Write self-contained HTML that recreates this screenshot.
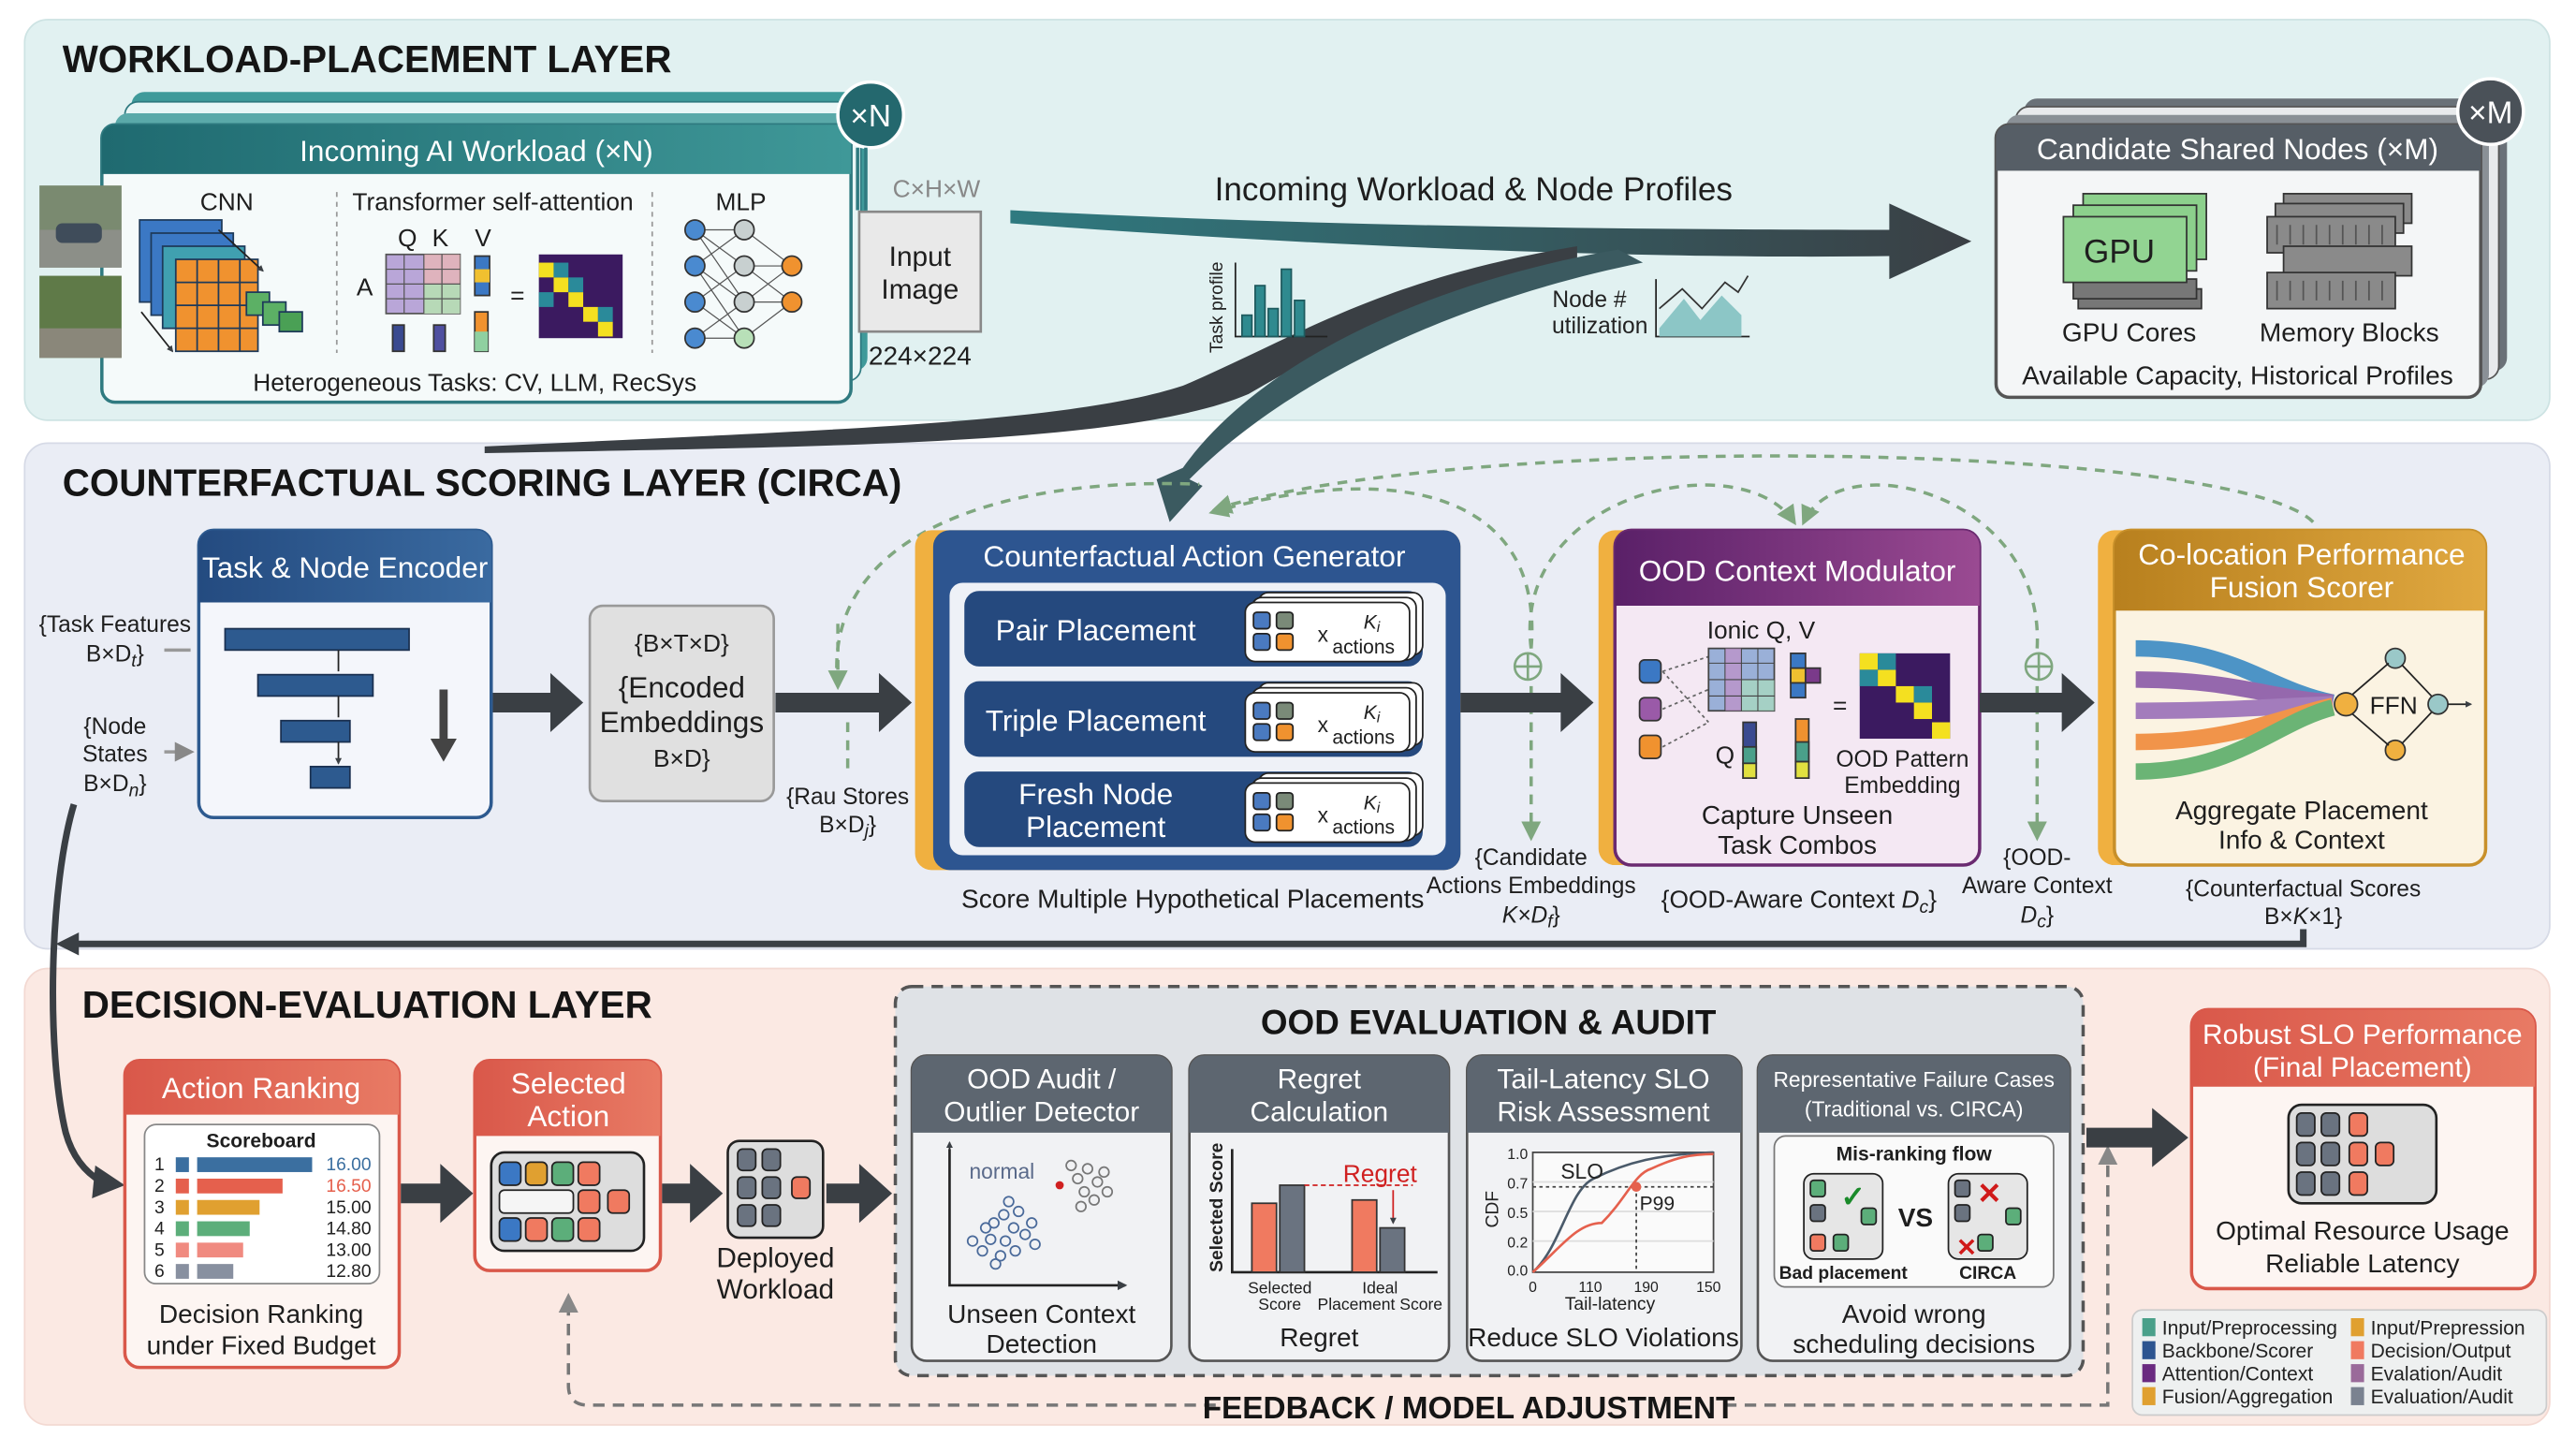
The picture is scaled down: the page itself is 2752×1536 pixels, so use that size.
<!DOCTYPE html>
<html><head><meta charset="utf-8">
<style>
html,body{margin:0;padding:0;background:#fff;}
svg{display:block;}
text{font-family:"Liberation Sans Narrow","Liberation Sans",sans-serif;}
.t{font-size:15px;fill:#1e1e1e;text-anchor:middle;}
.h{font-size:18px;fill:#fff;text-anchor:middle;}
.L{font-size:23px;font-weight:bold;fill:#151515;}
.s{font-size:12px;fill:#1e1e1e;text-anchor:middle;}
.gd{fill:none;stroke:#7fa77f;stroke-width:2;stroke-dasharray:6 5;}
.gy{fill:none;stroke:#777;stroke-width:2;stroke-dasharray:7 5;}
</style></head><body>
<svg width="2752" height="1536" viewBox="0 0 1568 876" preserveAspectRatio="none" xmlns="http://www.w3.org/2000/svg">
<defs>
<marker id="ag" viewBox="0 0 10 10" refX="8" refY="5" markerWidth="6" markerHeight="6" orient="auto"><path d="M0,0L10,5L0,10z" fill="#7fa77f"/></marker>
<marker id="ay" viewBox="0 0 10 10" refX="8" refY="5" markerWidth="6" markerHeight="6" orient="auto"><path d="M0,0L10,5L0,10z" fill="#888"/></marker>
<marker id="ad" viewBox="0 0 10 10" refX="8" refY="5" markerWidth="4" markerHeight="4" orient="auto"><path d="M0,0L10,5L0,10z" fill="#3a3f44"/></marker>
<linearGradient id="tg" x1="0" x2="1"><stop offset="0" stop-color="#2f7a80"/><stop offset="1" stop-color="#3a3f44"/></linearGradient>
<linearGradient id="hb" x1="0" x2="1"><stop offset="0" stop-color="#244b80"/><stop offset="1" stop-color="#3a6aa0"/></linearGradient>
<linearGradient id="hp" x1="0" x2="1"><stop offset="0" stop-color="#5a2068"/><stop offset="1" stop-color="#9a4a92"/></linearGradient>
<linearGradient id="ho" x1="0" x2="1"><stop offset="0" stop-color="#b8801e"/><stop offset="1" stop-color="#e0a840"/></linearGradient>
<linearGradient id="hr" x1="0" x2="1"><stop offset="0" stop-color="#d9584a"/><stop offset="1" stop-color="#e87a64"/></linearGradient>
<linearGradient id="ht" x1="0" x2="1"><stop offset="0" stop-color="#1f6a70"/><stop offset="1" stop-color="#3f9898"/></linearGradient>
</defs>

<rect x="15" y="12" width="1537" height="244" rx="14" fill="#e1f1f1" stroke="#cde3e3"/>
<rect x="15" y="270" width="1537" height="308" rx="14" fill="#eaedf5" stroke="#d6dae6"/>
<rect x="15" y="590" width="1537" height="278" rx="14" fill="#fbe9e3" stroke="#f3d9d2"/>

<text x="38" y="44" class="L">WORKLOAD-PLACEMENT LAYER</text>
<text x="38" y="302" class="L">COUNTERFACTUAL SCORING LAYER (CIRCA)</text>
<text x="50" y="620" class="L">DECISION-EVALUATION LAYER</text>

<rect x="80" y="56" width="448" height="170" rx="8" fill="#3f9a9a"/>
<rect x="76" y="62" width="448" height="170" rx="8" fill="#e9f6f6" stroke="#2f7a80"/>
<rect x="70" y="69" width="448" height="170" rx="8" fill="#5aa9a9"/>
<rect x="62" y="76" width="456" height="169" rx="8" fill="#f5fafa" stroke="#2f7a80" stroke-width="2"/>
<path d="M62 84 a8 8 0 0 1 8 -8 H510 a8 8 0 0 1 8 8 V106 H62z" fill="url(#ht)"/>
<text x="290" y="98" class="h">Incoming AI Workload (×N)</text>
<circle cx="530" cy="70" r="20" fill="#24686e" stroke="#fff" stroke-width="2"/>
<text x="530" y="77" class="h" style="font-size:19px">×N</text>
<line x1="522" y1="90" x2="522" y2="128" stroke="#2f7a80" stroke-width="2"/>
<line x1="527" y1="90" x2="527" y2="128" stroke="#2f7a80" stroke-width="2"/>
<rect x="24" y="113" width="50" height="50" fill="#7a8a70"/><rect x="24" y="140" width="50" height="23" fill="#8c8f88"/><rect x="34" y="136" width="28" height="12" rx="4" fill="#3f4c5a"/>
<rect x="24" y="168" width="50" height="50" fill="#5f7a48"/><rect x="24" y="200" width="50" height="18" fill="#8a877a"/>
<text x="138" y="128" class="t">CNN</text>
<text x="300" y="128" class="t">Transformer self-attention</text>
<text x="451" y="128" class="t">MLP</text>
<line x1="205" y1="117" x2="205" y2="215" stroke="#999" stroke-dasharray="3 3"/>
<line x1="397" y1="117" x2="397" y2="215" stroke="#999" stroke-dasharray="3 3"/>
<g stroke="#1e3a5a" stroke-width="1">
<rect x="85" y="134" width="50" height="50" fill="#3b78c4"/>
<rect x="92" y="142" width="50" height="50" fill="#3b78c4"/>
<rect x="99" y="150" width="50" height="50" fill="#40a0b0"/>
<rect x="107" y="158" width="50" height="56" fill="#f0922f"/>
<path d="M107 172H157M107 186H157M107 200H157M120 158V214M133 158V214M146 158V214" fill="none"/>
<rect x="150" y="178" width="14" height="14" fill="#5cb065"/><rect x="160" y="184" width="14" height="14" fill="#5cb065"/><rect x="170" y="190" width="14" height="12" fill="#4aa055"/>
</g>
<line x1="133" y1="140" x2="160" y2="165" stroke="#222" marker-end="url(#ad)"/>
<line x1="86" y1="190" x2="105" y2="214" stroke="#222" marker-end="url(#ad)"/>
<text x="248" y="150" class="t">Q</text><text x="268" y="150" class="t">K</text><text x="294" y="150" class="t">V</text>
<text x="222" y="180" class="t">A</text>
<rect x="235" y="155" width="45" height="36" fill="#b9a6d8" stroke="#555"/>
<rect x="258" y="155" width="22" height="36" fill="#e9b7b7" opacity=".8"/>
<rect x="258" y="173" width="22" height="18" fill="#b7d9b7"/>
<path d="M235 164H280M235 173H280M235 182H280M246 155V191M258 155V191M269 155V191" stroke="#555" fill="none" stroke-width=".7"/>
<rect x="289" y="156" width="9" height="24" fill="#3b78c4" stroke="#333"/><rect x="289" y="164" width="9" height="8" fill="#f0c030"/>
<rect x="239" y="198" width="7" height="16" fill="#3a4a90" stroke="#333"/><rect x="264" y="198" width="7" height="16" fill="#5050a0" stroke="#333"/><rect x="289" y="190" width="8" height="24" fill="#f0922f" stroke="#333"/><rect x="289" y="202" width="8" height="12" fill="#8fd0a0"/>
<text x="315" y="185" class="t">=</text>
<rect x="328" y="155" width="51" height="51" fill="#3b1a60"/>
<g fill="#f4e020"><rect x="328" y="160" width="9" height="9"/><rect x="337" y="169" width="9" height="9"/><rect x="346" y="178" width="9" height="9"/><rect x="355" y="187" width="9" height="9"/><rect x="364" y="196" width="9" height="9"/></g>
<g fill="#2a8a9a"><rect x="337" y="160" width="9" height="9"/><rect x="346" y="169" width="9" height="9"/><rect x="328" y="178" width="9" height="9"/><rect x="364" y="187" width="9" height="9"/></g>
<g stroke="#555" stroke-width=".7">
<path d="M423 140L453 140M423 140L453 162M423 140L453 184M423 162L453 140M423 162L453 184M423 162L453 206M423 184L453 162M423 184L453 206M423 206L453 184M423 206L453 206M453 140L482 162M453 162L482 162M453 184L482 184M453 206L482 184M453 162L482 184M453 184L482 162"/>
</g>
<g stroke="#333"><circle cx="423" cy="140" r="6" fill="#4a8ad0"/><circle cx="423" cy="162" r="6" fill="#4a8ad0"/><circle cx="423" cy="184" r="6" fill="#4a8ad0"/><circle cx="423" cy="206" r="6" fill="#4a8ad0"/>
<circle cx="453" cy="140" r="6" fill="#c8d0d0"/><circle cx="453" cy="162" r="6" fill="#c8d0d0"/><circle cx="453" cy="184" r="6" fill="#c8d0d0"/><circle cx="453" cy="206" r="6" fill="#b8e0b8"/>
<circle cx="482" cy="162" r="6" fill="#f0922f"/><circle cx="482" cy="184" r="6" fill="#f0922f"/></g>
<text x="289" y="238" class="t">Heterogeneous Tasks: CV, LLM, RecSys</text>
<text x="570" y="120" class="t" style="fill:#888">C×H×W</text>
<rect x="523" y="129" width="74" height="73" fill="#e9e9e9" stroke="#888" stroke-width="1.5"/>
<text x="560" y="162" class="t" style="font-size:17px">Input</text><text x="560" y="182" class="t" style="font-size:17px">Image</text>
<text x="560" y="222" class="t" style="font-size:16px">224×224</text>

<path d="M615 128 C800 138, 1000 140, 1150 140 L1150 124 L1200 147 L1150 170 L1150 156 C1000 158, 800 150, 615 136z" fill="url(#tg)"/>
<path d="M295 272 C500 262, 650 258, 720 235 C790 205, 840 170, 960 150 L960 160 C880 175, 820 205, 760 240 C690 270, 520 272, 295 276z" fill="#3a3f44"/>
<path d="M985 152 C880 170, 770 215, 720 285 L704 292 L712 318 L732 296 L724 292 C790 225, 900 180, 1000 160z" fill="#3b5a60"/>
<text x="897" y="122" class="t" style="font-size:20px">Incoming Workload &amp; Node Profiles</text>
<text transform="translate(744,215) rotate(-90)" style="font-size:11px;fill:#222">Task profile</text>
<path d="M752 160V205H808" stroke="#222" fill="none"/>
<g fill="#2f8a8f" stroke="#1e5a5e"><rect x="756" y="192" width="6" height="13"/><rect x="764" y="174" width="6" height="31"/><rect x="772" y="188" width="6" height="17"/><rect x="780" y="164" width="6" height="41"/><rect x="788" y="183" width="6" height="22"/></g>
<text x="990" y="187" style="font-size:14px;text-anchor:end;fill:#222">Node #</text>
<text x="1003" y="203" style="font-size:14px;text-anchor:end;fill:#222">utilization</text>
<path d="M1008 170V205H1065" stroke="#222" fill="none"/>
<path d="M1010 200L1025 182L1035 195L1048 180L1060 192V205H1010z" fill="#8cc6c6"/>
<path d="M1010 188L1024 176L1036 188L1050 172L1058 178L1064 168" stroke="#333" fill="none"/>

<rect x="1232" y="60" width="294" height="166" rx="8" fill="#6a7178"/>
<rect x="1227" y="65" width="294" height="166" rx="8" fill="#e8eaec" stroke="#555"/>
<rect x="1221" y="70" width="294" height="166" rx="8" fill="#8a9096"/>
<rect x="1215" y="76" width="295" height="166" rx="8" fill="#f4f6f7" stroke="#555" stroke-width="2"/>
<path d="M1215 84 a8 8 0 0 1 8 -8 H1502 a8 8 0 0 1 8 8 V104 H1215z" fill="#565e66"/>
<text x="1362" y="97" class="h">Candidate Shared Nodes (×M)</text>
<circle cx="1516" cy="68" r="20" fill="#4a5158" stroke="#fff" stroke-width="2"/>
<text x="1516" y="75" class="h" style="font-size:19px">×M</text>
<g stroke="#333"><rect x="1265" y="176" width="75" height="12" fill="#777"/><rect x="1262" y="170" width="75" height="12" fill="#777"/>
<rect x="1268" y="118" width="75" height="40" fill="#8cd08c"/><rect x="1262" y="125" width="75" height="40" fill="#8cd08c"/><rect x="1256" y="132" width="75" height="40" fill="#92d492"/></g>
<text x="1290" y="160" class="t" style="font-size:20px">GPU</text>
<g stroke="#333" fill="#8a8a8a"><rect x="1390" y="118" width="78" height="18"/><rect x="1385" y="124" width="78" height="18"/><rect x="1380" y="132" width="78" height="22"/><rect x="1390" y="150" width="78" height="18"/><rect x="1380" y="166" width="78" height="22"/></g>
<path d="M1386 137v12M1394 137v12M1402 137v12M1410 137v12M1418 137v12M1426 137v12M1434 137v12M1442 137v12M1450 137v12M1386 171v12M1394 171v12M1402 171v12M1410 171v12M1418 171v12M1426 171v12M1434 171v12M1442 171v12M1450 171v12" stroke="#555"/>
<text x="1296" y="208" class="t" style="font-size:16px">GPU Cores</text>
<text x="1430" y="208" class="t" style="font-size:16px">Memory Blocks</text>
<text x="1362" y="234" class="t" style="font-size:16px">Available Capacity, Historical Profiles</text>

<path class="gd" d="M510 418 C500 330, 600 290, 730 295" />
<path class="gd" d="M932 395 C940 300, 850 280, 738 312" marker-end="url(#ag)"/>
<path class="gd" d="M1408 318 C1360 270, 900 262, 740 310" marker-end="url(#ag)"/>
<path class="gd" d="M932 395 C920 300, 1060 270, 1092 318" marker-end="url(#ag)"/>
<path class="gd" d="M1240 395 C1245 300, 1120 270, 1098 318" marker-end="url(#ag)"/>
<path class="gd" d="M510 380 L510 418" marker-end="url(#ag)"/>
<path class="gd" d="M516 440V470"/>
<path class="gd" d="M932 418V510" marker-end="url(#ag)"/>
<path class="gd" d="M1240 418V510" marker-end="url(#ag)"/>
<circle cx="930" cy="406" r="8" fill="none" stroke="#7fa77f" stroke-width="1.5"/><path d="M922 406H938M930 398V414" stroke="#7fa77f" stroke-width="1.5"/>
<circle cx="1241" cy="406" r="8" fill="none" stroke="#7fa77f" stroke-width="1.5"/><path d="M1233 406H1249M1241 398V414" stroke="#7fa77f" stroke-width="1.5"/>

<rect x="121" y="323" width="178" height="175" rx="9" fill="#f4f6fb" stroke="#2d5a8f" stroke-width="2"/>
<path d="M121 332 a9 9 0 0 1 9 -9 H290 a9 9 0 0 1 9 9 V367 H121z" fill="url(#hb)"/>
<text x="210" y="352" class="h">Task &amp; Node Encoder</text>
<g fill="#2d5a8f" stroke="#1a3050"><rect x="137" y="383" width="112" height="13"/><rect x="157" y="411" width="70" height="13"/><rect x="171" y="439" width="42" height="13"/><rect x="189" y="467" width="24" height="13"/></g>
<path d="M206 396V409M206 424V437M206 452V465" stroke="#222" marker-end="url(#ad)"/>
<path d="M270 420V452" stroke="#444" stroke-width="5"/><path d="M262 450L270 464L278 450z" fill="#444"/>
<text x="70" y="385" class="t" style="font-size:14px">{Task Features</text>
<text x="70" y="403" class="t" style="font-size:14px">B×D<tspan font-style="italic" font-size="11" dy="3">t</tspan><tspan dy="-3">}</tspan></text>
<text x="70" y="447" class="t" style="font-size:14px">{Node</text><text x="70" y="464" class="t" style="font-size:14px">States</text>
<text x="70" y="482" class="t" style="font-size:14px">B×D<tspan font-style="italic" font-size="11" dy="3">n</tspan><tspan dy="-3">}</tspan></text>
<path d="M100 396H116M100 458H116" stroke="#999" stroke-width="2" marker-end="url(#ay)"/>
<path d="M300 422H335V410L355 428L335 446V434H300z" fill="#3a3f44"/>
<rect x="359" y="369" width="112" height="119" rx="8" fill="#e0e0e0" stroke="#999" stroke-width="1.5"/>
<text x="415" y="397" class="t" style="font-size:15px">{B×T×D}</text>
<text x="415" y="425" class="t" style="font-size:18px">{Encoded</text>
<text x="415" y="446" class="t" style="font-size:18px">Embeddings</text>
<text x="415" y="467" class="t" style="font-size:15px">B×D}</text>
<path d="M472 422H535V410L555 428L535 446V434H472z" fill="#3a3f44"/>
<text x="516" y="490" class="t" style="font-size:14px">{Rau Stores</text>
<text x="516" y="507" class="t" style="font-size:14px">B×D<tspan font-style="italic" font-size="11" dy="3">j</tspan><tspan dy="-3">}</tspan></text>

<rect x="557" y="323" width="332" height="207" rx="10" fill="#f0b040"/>
<rect x="568" y="323" width="321" height="207" rx="10" fill="#2d5590"/>
<text x="727" y="345" class="h">Counterfactual Action Generator</text>
<rect x="578" y="355" width="302" height="166" rx="8" fill="#eef1f7"/>
<rect x="587" y="360" width="279" height="46" rx="9" fill="#25497e"/>
<rect x="587" y="415" width="279" height="46" rx="9" fill="#25497e"/>
<rect x="587" y="470" width="279" height="46" rx="9" fill="#25497e"/>
<text x="667" y="390" class="h">Pair Placement</text>
<text x="667" y="445" class="h">Triple Placement</text>
<text x="667" y="490" class="h">Fresh Node</text><text x="667" y="510" class="h">Placement</text>
<g id="kc">
<rect x="766" y="361" width="100" height="38" rx="6" fill="#fff" stroke="#222"/>
<rect x="762" y="364" width="100" height="38" rx="6" fill="#fff" stroke="#222"/>
<rect x="758" y="367" width="100" height="36" rx="6" fill="#fff" stroke="#222"/>
<rect x="763" y="373" width="10" height="10" rx="2" fill="#4a7ac0" stroke="#222"/><rect x="763" y="386" width="10" height="10" rx="2" fill="#4a7ac0" stroke="#222"/>
<rect x="777" y="373" width="10" height="10" rx="2" fill="#7a8a78" stroke="#222"/><rect x="777" y="386" width="10" height="10" rx="2" fill="#f0922f" stroke="#222"/>
<text x="802" y="391" style="font-size:13px;fill:#222">x</text>
<text x="830" y="383" style="font-size:12px;font-style:italic;fill:#222">K<tspan font-size="9" dy="2">i</tspan></text>
<text x="830" y="398" class="s">actions</text>
</g>
<use href="#kc" y="55"/><use href="#kc" y="110"/>
<text x="726" y="553" class="t" style="font-size:16px">Score Multiple Hypothetical Placements</text>
<path d="M889 422H950V410L970 428L950 446V434H889z" fill="#3a3f44"/>
<text x="932" y="527" class="t" style="font-size:14px">{Candidate</text>
<text x="932" y="544" class="t" style="font-size:14px">Actions Embeddings</text>
<text x="932" y="562" class="t" style="font-size:14px;font-style:italic">K×D<tspan font-size="11" dy="3">f</tspan><tspan dy="-3" font-style="normal">}</tspan></text>

<rect x="973" y="323" width="232" height="204" rx="10" fill="#f0b040"/>
<rect x="983" y="323" width="222" height="204" rx="10" fill="#f4e8f3" stroke="#6a2a70" stroke-width="2"/>
<path d="M983 333 a10 10 0 0 1 10 -10 H1195 a10 10 0 0 1 10 10 V369 H983z" fill="url(#hp)"/>
<text x="1094" y="354" class="h">OOD Context Modulator</text>
<text x="1072" y="389" class="t" style="font-size:15px">Ionic Q, V</text>
<g stroke="#333"><rect x="998" y="402" width="13" height="14" rx="3" fill="#3b78c4"/><rect x="998" y="425" width="13" height="14" rx="3" fill="#9a5aa8"/><rect x="998" y="448" width="13" height="14" rx="3" fill="#f0922f"/></g>
<path d="M1012 409L1040 400M1012 432L1040 420M1012 455L1040 440M1012 409L1040 440" stroke="#666" stroke-dasharray="2 2"/>
<rect x="1040" y="395" width="40" height="38" fill="#9ab0d8" stroke="#444"/>
<rect x="1050" y="395" width="10" height="38" fill="#c090c8" opacity=".7"/><rect x="1060" y="414" width="20" height="19" fill="#a8d8c0" opacity=".8"/>
<path d="M1040 404H1080M1040 414H1080M1040 424H1080M1050 395V433M1060 395V433M1070 395V433" stroke="#444" stroke-width=".6"/>
<g stroke="#333"><rect x="1090" y="398" width="9" height="27" fill="#3b78c4"/><rect x="1090" y="407" width="9" height="9" fill="#f0c030"/><rect x="1099" y="407" width="9" height="9" fill="#7a3a8a"/></g>
<text x="1050" y="465" class="t" style="font-size:15px">Q</text>
<g stroke="#333"><rect x="1061" y="440" width="8" height="34" fill="#3a4a90"/><rect x="1061" y="455" width="8" height="10" fill="#4aa08a"/><rect x="1061" y="465" width="8" height="9" fill="#e0e040"/>
<rect x="1093" y="438" width="8" height="36" fill="#f0922f"/><rect x="1093" y="452" width="8" height="12" fill="#4aa08a"/><rect x="1093" y="464" width="8" height="10" fill="#e0e040"/></g>
<text x="1120" y="435" class="t">=</text>
<rect x="1132" y="398" width="55" height="52" fill="#3b1a60"/>
<g fill="#f4e020"><rect x="1132" y="398" width="11" height="10"/><rect x="1143" y="408" width="11" height="10"/><rect x="1154" y="418" width="11" height="10"/><rect x="1165" y="428" width="11" height="10"/><rect x="1176" y="440" width="11" height="10"/></g>
<g fill="#2a8a9a"><rect x="1143" y="398" width="11" height="10"/><rect x="1132" y="408" width="11" height="10"/><rect x="1165" y="418" width="11" height="10"/></g>
<text x="1158" y="467" class="t" style="font-size:14px">OOD Pattern</text>
<text x="1158" y="483" class="t" style="font-size:14px">Embedding</text>
<text x="1094" y="502" class="t" style="font-size:16px">Capture Unseen</text>
<text x="1094" y="520" class="t" style="font-size:16px">Task Combos</text>
<text x="1095" y="553" class="t" style="font-size:15px">{OOD-Aware Context <tspan font-style="italic">D</tspan><tspan font-size="11" dy="3" font-style="italic">c</tspan><tspan dy="-3">}</tspan></text>
<path d="M1205 422H1255V410L1275 428L1255 446V434H1205z" fill="#3a3f44"/>
<text x="1240" y="527" class="t" style="font-size:14px">{OOD-</text>
<text x="1240" y="544" class="t" style="font-size:14px">Aware Context</text>
<text x="1240" y="562" class="t" style="font-size:14px;font-style:italic">D<tspan font-size="11" dy="3">c</tspan><tspan dy="-3" font-style="normal">}</tspan></text>

<rect x="1277" y="323" width="236" height="204" rx="10" fill="#f0b040"/>
<rect x="1287" y="323" width="226" height="204" rx="10" fill="#fbf3e2" stroke="#c8902a" stroke-width="2"/>
<path d="M1287 333 a10 10 0 0 1 10 -10 H1503 a10 10 0 0 1 10 10 V372 H1287z" fill="url(#ho)"/>
<text x="1401" y="344" class="h">Co-location Performance</text>
<text x="1401" y="364" class="h">Fusion Scorer</text>
<g fill="none" stroke-width="10" opacity=".9">
<path d="M1300 395 C1360 395, 1380 420, 1420 428" stroke="#3b8ac4"/>
<path d="M1300 414 C1360 414, 1380 425, 1420 428" stroke="#8a5aa8"/>
<path d="M1300 433 C1360 433, 1390 430, 1420 429" stroke="#9a70b8"/>
<path d="M1300 452 C1360 452, 1390 436, 1420 430" stroke="#f08a3a"/>
<path d="M1300 470 C1360 470, 1385 440, 1420 431" stroke="#5cae6a"/>
</g>
<circle cx="1428" cy="429" r="7" fill="#f0b040" stroke="#333"/>
<circle cx="1458" cy="401" r="6" fill="#9ac8c8" stroke="#333"/><circle cx="1458" cy="457" r="6" fill="#f0b040" stroke="#333"/>
<circle cx="1484" cy="429" r="6" fill="#9ac8c8" stroke="#333"/>
<path d="M1432 423L1454 404M1432 435L1454 454M1462 405L1480 424M1462 453L1480 434M1490 429H1504" stroke="#222" fill="none" marker-end="url(#ad)"/>
<text x="1457" y="435" class="t" style="font-size:15px">FFN</text>
<text x="1401" y="499" class="t" style="font-size:16px">Aggregate Placement</text>
<text x="1401" y="517" class="t" style="font-size:16px">Info &amp; Context</text>
<text x="1402" y="546" class="t" style="font-size:14px">{Counterfactual Scores</text>
<text x="1402" y="563" class="t" style="font-size:14px">B×<tspan font-style="italic">K</tspan>×1}</text>

<path d="M1402 566V575H45" stroke="#3a3f44" stroke-width="4" fill="none"/>
<path d="M48 568L34 575L48 582z" fill="#3a3f44"/>
<path d="M45 490 C30 540, 28 640, 40 690 C45 708, 55 716, 62 720" stroke="#3a3f44" stroke-width="4" fill="none"/>
<path d="M58 710L76 722L56 730z" fill="#3a3f44"/>

<rect x="76" y="646" width="167" height="187" rx="9" fill="#fdf5f2" stroke="#d9584a" stroke-width="2"/>
<path d="M76 655 a9 9 0 0 1 9 -9 H234 a9 9 0 0 1 9 9 V679 H76z" fill="url(#hr)"/>
<text x="159" y="669" class="h">Action Ranking</text>
<rect x="88" y="685" width="143" height="97" rx="7" fill="#fff" stroke="#888"/>
<text x="159" y="699" class="s" style="font-weight:bold">Scoreboard</text>
<g style="font-size:11px;fill:#222">
<text x="94" y="713">1</text><text x="94" y="726">2</text><text x="94" y="739">3</text><text x="94" y="752">4</text><text x="94" y="765">5</text><text x="94" y="778">6</text>
</g>
<rect x="107" y="705" width="8" height="9" fill="#3b6fa0"/><rect x="120" y="705" width="70" height="9" fill="#3b6fa0"/>
<rect x="107" y="718" width="8" height="9" fill="#e5604d"/><rect x="120" y="718" width="52" height="9" fill="#e5604d"/>
<rect x="107" y="731" width="8" height="9" fill="#e0a030"/><rect x="120" y="731" width="38" height="9" fill="#e0a030"/>
<rect x="107" y="744" width="8" height="9" fill="#5cae7a"/><rect x="120" y="744" width="32" height="9" fill="#5cae7a"/>
<rect x="107" y="757" width="8" height="9" fill="#f08a80"/><rect x="120" y="757" width="28" height="9" fill="#f08a80"/>
<rect x="107" y="770" width="8" height="9" fill="#8890a0"/><rect x="120" y="770" width="22" height="9" fill="#8890a0"/>
<g style="font-size:11px;text-anchor:end">
<text x="226" y="713" fill="#3b6fa0">16.00</text><text x="226" y="726" fill="#e5604d">16.50</text><text x="226" y="739" fill="#222">15.00</text><text x="226" y="752" fill="#222">14.80</text><text x="226" y="765" fill="#222">13.00</text><text x="226" y="778" fill="#222">12.80</text>
</g>
<text x="159" y="806" class="t" style="font-size:16px">Decision Ranking</text>
<text x="159" y="825" class="t" style="font-size:16px">under Fixed Budget</text>
<path d="M244 721H268V709L288 727L268 745V733H244z" fill="#3a3f44"/>
<rect x="289" y="646" width="113" height="128" rx="9" fill="#fdf5f2" stroke="#d9584a" stroke-width="2"/>
<path d="M289 655 a9 9 0 0 1 9 -9 H393 a9 9 0 0 1 9 9 V692 H289z" fill="url(#hr)"/>
<text x="346" y="666" class="h">Selected</text><text x="346" y="686" class="h">Action</text>
<rect x="299" y="702" width="93" height="60" rx="8" fill="#ddd" stroke="#222" stroke-width="1.5"/>
<g stroke="#222"><rect x="304" y="708" width="13" height="14" rx="3" fill="#3b78c4"/><rect x="320" y="708" width="13" height="14" rx="3" fill="#e0a030"/><rect x="336" y="708" width="13" height="14" rx="3" fill="#5cae7a"/><rect x="352" y="708" width="13" height="14" rx="3" fill="#f07a60"/>
<rect x="304" y="725" width="45" height="14" rx="3" fill="#f5f5f5"/><rect x="352" y="725" width="13" height="14" rx="3" fill="#f07a60"/><rect x="370" y="725" width="13" height="14" rx="3" fill="#f07a60"/>
<rect x="304" y="742" width="13" height="14" rx="3" fill="#3b78c4"/><rect x="320" y="742" width="13" height="14" rx="3" fill="#f07a60"/><rect x="336" y="742" width="13" height="14" rx="3" fill="#5cae7a"/><rect x="352" y="742" width="13" height="14" rx="3" fill="#f07a60"/></g>
<path d="M403 721H420V709L440 727L420 745V733H403z" fill="#3a3f44"/>
<rect x="443" y="695" width="58" height="59" rx="7" fill="#ddd" stroke="#222" stroke-width="1.5"/>
<g stroke="#222" fill="#6a7380"><rect x="449" y="700" width="11" height="13" rx="3"/><rect x="464" y="700" width="11" height="13" rx="3"/><rect x="449" y="717" width="11" height="13" rx="3"/><rect x="464" y="717" width="11" height="13" rx="3"/><rect x="449" y="734" width="11" height="13" rx="3"/><rect x="464" y="734" width="11" height="13" rx="3"/><rect x="482" y="717" width="11" height="13" rx="3" fill="#f07a60"/></g>
<text x="472" y="772" class="t" style="font-size:17px">Deployed</text>
<text x="472" y="791" class="t" style="font-size:17px">Workload</text>
<path d="M503 721H523V709L543 727L523 745V733H503z" fill="#3a3f44"/>

<rect x="545" y="601" width="723" height="237" rx="10" fill="#dfe2e6" stroke="#555" stroke-width="2" stroke-dasharray="7 5"/>
<text x="906" y="630" class="t" style="font-size:21px;font-weight:bold;fill:#151515">OOD EVALUATION &amp; AUDIT</text>
<g id="card">
<rect x="555" y="643" width="158" height="186" rx="9" fill="#f1f2f4" stroke="#555" stroke-width="1.5"/>
<path d="M555 652 a9 9 0 0 1 9 -9 H704 a9 9 0 0 1 9 9 V690 H555z" fill="#5d6670"/>
</g>
<use href="#card" x="169"/>
<rect x="893" y="643" width="167" height="186" rx="9" fill="#f1f2f4" stroke="#555" stroke-width="1.5"/>
<path d="M893 652 a9 9 0 0 1 9 -9 H1051 a9 9 0 0 1 9 9 V690 H893z" fill="#5d6670"/>
<rect x="1070" y="643" width="190" height="186" rx="9" fill="#f1f2f4" stroke="#555" stroke-width="1.5"/>
<path d="M1070 652 a9 9 0 0 1 9 -9 H1251 a9 9 0 0 1 9 9 V690 H1070z" fill="#5d6670"/>
<text x="634" y="663" class="h" style="font-size:17px">OOD Audit /</text><text x="634" y="683" class="h" style="font-size:17px">Outlier Detector</text>
<text x="803" y="663" class="h" style="font-size:17px">Regret</text><text x="803" y="683" class="h" style="font-size:17px">Calculation</text>
<text x="976" y="663" class="h" style="font-size:17px">Tail-Latency SLO</text><text x="976" y="683" class="h" style="font-size:17px">Risk Assessment</text>
<text x="1165" y="662" class="h" style="font-size:13px">Representative Failure Cases</text><text x="1165" y="680" class="h" style="font-size:13px">(Traditional vs. CIRCA)</text>
<path d="M578 700V783H685" stroke="#222" fill="none" stroke-width="1.5" marker-end="url(#ad)"/>
<path d="M578 700V696" stroke="#222" marker-end="url(#ad)"/>
<text x="590" y="718" style="font-size:13px;fill:#5a6a8a">normal</text>
<g fill="none" stroke="#4a6a9a" stroke-width="1">
<circle cx="605" cy="745" r="3"/><circle cx="611" cy="740" r="3"/><circle cx="617" cy="748" r="3"/><circle cx="603" cy="755" r="3"/><circle cx="612" cy="756" r="3"/><circle cx="620" cy="738" r="3"/><circle cx="624" cy="752" r="3"/><circle cx="598" cy="762" r="3"/><circle cx="609" cy="765" r="3"/><circle cx="618" cy="762" r="3"/><circle cx="628" cy="745" r="3"/><circle cx="614" cy="732" r="3"/><circle cx="600" cy="748" r="3"/><circle cx="592" cy="756" r="3"/><circle cx="630" cy="758" r="3"/><circle cx="606" cy="770" r="3"/>
</g>
<g fill="none" stroke="#777" stroke-width="1">
<circle cx="656" cy="718" r="3"/><circle cx="662" cy="712" r="3"/><circle cx="668" cy="720" r="3"/><circle cx="660" cy="726" r="3"/><circle cx="672" cy="714" r="3"/><circle cx="666" cy="731" r="3"/><circle cx="652" cy="710" r="3"/><circle cx="674" cy="726" r="3"/><circle cx="658" cy="735" r="3"/>
</g>
<circle cx="645" cy="722" r="2.5" fill="#d02020"/>
<text x="634" y="806" class="t" style="font-size:16px">Unseen Context</text><text x="634" y="824" class="t" style="font-size:16px">Detection</text>
<path d="M750 700V775H875" stroke="#222" fill="none" stroke-width="1.5"/>
<text transform="translate(744,775) rotate(-90)" style="font-size:11px;font-weight:bold;fill:#222">Selected Score</text>
<rect x="762" y="733" width="15" height="42" fill="#f07a60" stroke="#333"/><rect x="779" y="722" width="15" height="53" fill="#6a7380" stroke="#333"/>
<rect x="823" y="731" width="15" height="44" fill="#f07a60" stroke="#333"/><rect x="840" y="748" width="15" height="27" fill="#6a7380" stroke="#333"/>
<path d="M794 722H860" stroke="#d02020" stroke-dasharray="3 2"/>
<path d="M848 725V745" stroke="#d02020" marker-end="url(#ad)"/>
<text x="840" y="720" class="t" style="fill:#d02020;font-size:15px">Regret</text>
<text x="779" y="788" class="s" style="font-size:10px">Selected</text><text x="779" y="798" class="s" style="font-size:10px">Score</text>
<text x="840" y="788" class="s" style="font-size:10px">Ideal</text><text x="840" y="798" class="s" style="font-size:10px">Placement Score</text>
<text x="803" y="820" class="t" style="font-size:16px">Regret</text>
<rect x="933" y="702" width="110" height="73" fill="#fafafa" stroke="#444"/>
<path d="M933 720H1043M933 738H1043M933 756H1043" stroke="#ddd"/>
<path d="M933 775 C950 760, 955 725, 970 718 C990 708, 1010 703, 1043 702" stroke="#4a5a6a" stroke-width="1.5" fill="none"/>
<path d="M933 775 C950 760, 960 745, 975 745 C990 730, 995 715, 1005 712 C1020 705, 1030 703, 1043 703" stroke="#e5604d" stroke-width="1.5" fill="none"/>
<path d="M933 723H1043M996 723V775" stroke="#444" stroke-dasharray="2 2"/>
<circle cx="996" cy="723" r="3" fill="#e5604d"/>
<text x="950" y="718" style="font-size:13px;fill:#222">SLO</text>
<text x="998" y="737" style="font-size:12px;fill:#222">P99</text>
<g style="font-size:9px;fill:#222;text-anchor:end"><text x="930" y="706">1.0</text><text x="930" y="724">0.7</text><text x="930" y="742">0.5</text><text x="930" y="760">0.2</text><text x="930" y="777">0.0</text></g>
<text transform="translate(912,748) rotate(-90)" style="font-size:11px;fill:#222">CDF</text>
<g class="s" style="font-size:9px"><text x="933" y="787">0</text><text x="968" y="787">110</text><text x="1002" y="787">190</text><text x="1040" y="787">150</text></g>
<text x="980" y="798" class="s" style="font-size:11px">Tail-latency</text>
<text x="976" y="820" class="t" style="font-size:16px">Reduce SLO Violations</text>
<rect x="1080" y="692" width="170" height="92" rx="7" fill="#fafafa" stroke="#777"/>
<text x="1165" y="707" class="s" style="font-weight:bold">Mis-ranking flow</text>
<rect x="1098" y="715" width="48" height="52" rx="6" fill="#e6e6e6" stroke="#222"/>
<rect x="1186" y="715" width="48" height="52" rx="6" fill="#e6e6e6" stroke="#222"/>
<g stroke="#222"><rect x="1102" y="719" width="9" height="10" rx="2" fill="#5cae7a"/><rect x="1102" y="734" width="9" height="10" rx="2" fill="#6a7380"/><rect x="1102" y="752" width="9" height="10" rx="2" fill="#f07a60"/><rect x="1116" y="752" width="9" height="10" rx="2" fill="#5cae7a"/><rect x="1133" y="736" width="9" height="10" rx="2" fill="#5cae7a"/>
<rect x="1190" y="719" width="9" height="10" rx="2" fill="#6a7380"/><rect x="1190" y="734" width="9" height="10" rx="2" fill="#6a7380"/><rect x="1204" y="752" width="9" height="10" rx="2" fill="#5cae7a"/><rect x="1221" y="736" width="9" height="10" rx="2" fill="#5cae7a"/></g>
<text x="1128" y="735" style="font-size:18px;fill:#1a8a2a;text-anchor:middle;font-weight:bold">✓</text>
<text x="1211" y="733" style="font-size:18px;fill:#d01a1a;text-anchor:middle;font-weight:bold">✕</text>
<text x="1197" y="765" style="font-size:15px;fill:#d01a1a;text-anchor:middle;font-weight:bold">✕</text>
<text x="1166" y="747" class="t" style="font-size:16px;font-weight:bold">VS</text>
<text x="1122" y="779" class="s" style="font-size:11px;font-weight:bold">Bad placement</text>
<text x="1210" y="779" class="s" style="font-size:11px;font-weight:bold">CIRCA</text>
<text x="1165" y="806" class="t" style="font-size:16px">Avoid wrong</text><text x="1165" y="824" class="t" style="font-size:16px">scheduling decisions</text>
<path class="gy" d="M1050 856H1283V700" marker-end="url(#ay)"/>
<path class="gy" d="M740 856H358 Q346 856 346 844V790" marker-end="url(#ay)"/>
<text x="894" y="864" class="t" style="font-size:19px;font-weight:bold;fill:#151515">FEEDBACK / MODEL ADJUSTMENT</text>
<path d="M1270 687H1310V675L1332 693L1310 711V699H1270z" fill="#3a3f44"/>
<rect x="1334" y="615" width="209" height="170" rx="10" fill="#fdf5f2" stroke="#d9584a" stroke-width="2"/>
<path d="M1334 625 a10 10 0 0 1 10 -10 H1533 a10 10 0 0 1 10 10 V662 H1334z" fill="url(#hr)"/>
<text x="1438" y="636" class="h" style="font-size:17px">Robust SLO Performance</text>
<text x="1438" y="656" class="h" style="font-size:17px">(Final Placement)</text>
<rect x="1393" y="673" width="90" height="60" rx="8" fill="#ddd" stroke="#222" stroke-width="1.5"/>
<g stroke="#222"><rect x="1398" y="678" width="11" height="14" rx="3" fill="#6a7380"/><rect x="1413" y="678" width="11" height="14" rx="3" fill="#6a7380"/><rect x="1430" y="678" width="11" height="14" rx="3" fill="#f07a60"/>
<rect x="1398" y="696" width="11" height="14" rx="3" fill="#6a7380"/><rect x="1413" y="696" width="11" height="14" rx="3" fill="#6a7380"/><rect x="1430" y="696" width="11" height="14" rx="3" fill="#f07a60"/><rect x="1446" y="696" width="11" height="14" rx="3" fill="#f07a60"/>
<rect x="1398" y="714" width="11" height="14" rx="3" fill="#6a7380"/><rect x="1413" y="714" width="11" height="14" rx="3" fill="#6a7380"/><rect x="1430" y="714" width="11" height="14" rx="3" fill="#f07a60"/></g>
<text x="1438" y="755" class="t" style="font-size:16px">Optimal Resource Usage</text>
<text x="1438" y="775" class="t" style="font-size:16px">Reliable Latency</text>
<rect x="1298" y="798" width="252" height="64" rx="6" fill="#eef0f0" stroke="#ccc"/>
<g style="font-size:12px;fill:#222">
<rect x="1304" y="803" width="8" height="11" fill="#4aa08a"/><text x="1316" y="813">Input/Preprocessing</text>
<rect x="1304" y="817" width="8" height="11" fill="#2d5590"/><text x="1316" y="827">Backbone/Scorer</text>
<rect x="1304" y="831" width="8" height="11" fill="#6a2a80"/><text x="1316" y="841">Attention/Context</text>
<rect x="1304" y="845" width="8" height="11" fill="#e0a030"/><text x="1316" y="855">Fusion/Aggregation</text>
<rect x="1431" y="803" width="8" height="11" fill="#e0a030"/><text x="1443" y="813">Input/Prepression</text>
<rect x="1431" y="817" width="8" height="11" fill="#f07a60"/><text x="1443" y="827">Decision/Output</text>
<rect x="1431" y="831" width="8" height="11" fill="#9a6a9a"/><text x="1443" y="841">Evalation/Audit</text>
<rect x="1431" y="845" width="8" height="11" fill="#7a8290"/><text x="1443" y="855">Evaluation/Audit</text>
</g>
</svg>
</body></html>
